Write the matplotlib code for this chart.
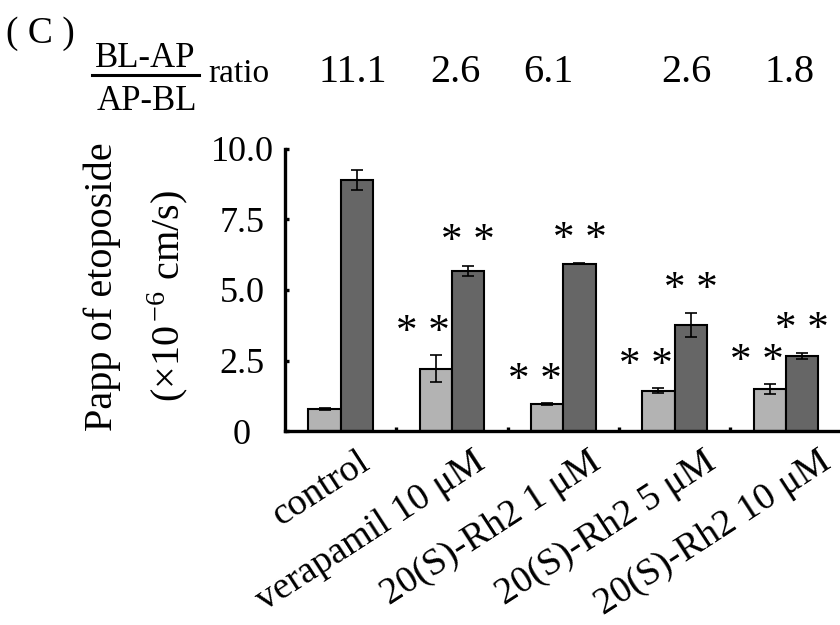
import numpy as np
import matplotlib
matplotlib.use("Agg")
import matplotlib.pyplot as plt
from matplotlib.transforms import ScaledTranslation

plt.rcParams['font.family'] = ['Liberation Serif', 'DejaVu Serif']
plt.rcParams['mathtext.fontset'] = 'stix'

# data
groups = ['control', 'verapamil 10 μM', '20(S)-Rh2 1 μM', '20(S)-Rh2 5 μM', '20(S)-Rh2 10 μM']
ap_bl = [0.79, 2.21, 0.95, 1.43, 1.48]
ap_bl_err = [0.03, 0.47, 0.04, 0.09, 0.18]
bl_ap = [8.90, 5.68, 5.93, 3.76, 2.66]
bl_ap_err = [0.35, 0.18, 0.02, 0.42, 0.10]
ratios = ['11.1', '2.6', '6.1', '2.6', '1.8']
sig_ap_bl = ['', '* *', '* *', '* *', '* *']
sig_bl_ap = ['', '* *', '* *', '* *', '* *']
yticks = [0, 2.5, 5.0, 7.5, 10.0]
ytick_labels = ['0', '2.5', '5.0', '7.5', '10.0']

fig = plt.figure(figsize=(8.4, 6.25), dpi=100)
ax = fig.add_axes([285/840, 194/625, 556.5/840, 282/625])

x = np.arange(len(groups))
w = 0.29
ax.bar(x - w/2, ap_bl, w, color='#b3b3b3', edgecolor='black', linewidth=1.5, zorder=2)
ax.bar(x + w/2, bl_ap, w, color='#666666', edgecolor='black', linewidth=1.5, zorder=2)
ax.errorbar(x - w/2, ap_bl, yerr=ap_bl_err, fmt='none', ecolor='black', elinewidth=1.2, capsize=4, capthick=1.2, zorder=3)
ax.errorbar(x + w/2, bl_ap, yerr=bl_ap_err, fmt='none', ecolor='black', elinewidth=1.2, capsize=4, capthick=1.2, zorder=3)

# significance marks
for i in range(len(groups)):
    if sig_ap_bl[i]:
        ax.annotate(sig_ap_bl[i], xy=(x[i] - w/2, ap_bl[i] + ap_bl_err[i]), xytext=(-9, 16),
                    textcoords='offset points', ha='center', va='center', fontsize=31)
    if sig_bl_ap[i]:
        ax.annotate(sig_bl_ap[i], xy=(x[i] + w/2, bl_ap[i] + bl_ap_err[i]), xytext=(0, 17),
                    textcoords='offset points', ha='center', va='center', fontsize=31)

ax.set_xlim(-0.5, 4.5)
ax.set_ylim(0, 10)
for s in ['top', 'right']:
    ax.spines[s].set_visible(False)
for s in ['left', 'bottom']:
    ax.spines[s].set_linewidth(2.4)

ax.set_yticks(yticks)
ax.set_yticklabels(ytick_labels, fontsize=26, ha='center')
ax.tick_params(axis='y', direction='in', length=3, width=2.4, pad=31)

ax.set_xticks(x)
ax.set_xticklabels(groups, fontsize=27.5, rotation=33, ha='right', va='center', rotation_mode='anchor')
ax.set_xticks(x[:-1] + 0.5, minor=True)
ax.tick_params(axis='x', which='major', length=0, pad=20)
ax.tick_params(axis='x', which='minor', direction='in', length=3, width=2.4)
for i, lab in enumerate(ax.get_xticklabels()):
    shift = ScaledTranslation((26 + 4*i)/100, 0, fig.dpi_scale_trans)
    lab.set_transform(lab.get_transform() + shift)

# y label, two lines
fig.text(102/840, 1 - 287/625, 'Papp of etoposide', rotation=90, ha='center', va='center', fontsize=29)
fig.text(168/840, 1 - 296/625, r'(×10$^{\,\mathregular{-6}}$ cm/s)', rotation=90, ha='center', va='center', fontsize=29)

# header: panel letter, ratio fraction and ratio values
fig.text(6/840, 1 - 43/625, '( C )', ha='left', va='baseline', fontsize=27)
fig.text(145/840, 1 - 67/625, 'BL-AP', ha='center', va='baseline', fontsize=25)
fig.add_artist(plt.Line2D([92/840, 199/840], [1 - 75/625, 1 - 75/625], color='black', linewidth=2.2))
fig.text(147/840, 1 - 110/625, 'AP-BL', ha='center', va='baseline', fontsize=25)
fig.text(208/840, 1 - 82/625, 'ratio', ha='left', va='baseline', fontsize=24)
ratio_x = [353, 455, 548, 686, 790]
for rx, r in zip(ratio_x, ratios):
    fig.text(rx/840, 1 - 82/625, r, ha='center', va='baseline', fontsize=29)

fig.savefig('out.png', dpi=100)
